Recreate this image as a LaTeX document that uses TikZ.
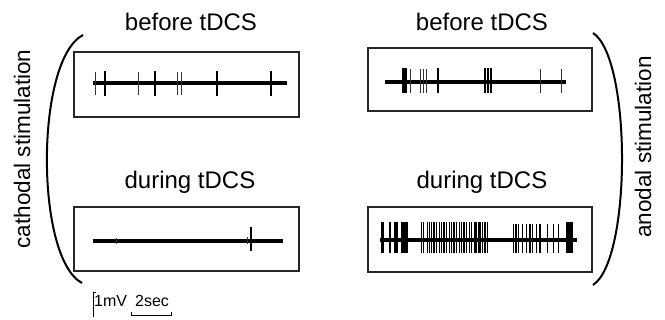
\documentclass[tikz,border=0pt]{standalone}
\usepackage{fontspec}
\setmainfont{Liberation Sans}
\begin{document}
\begin{tikzpicture}[x=1pt,y=-1pt,
  panel/.style={draw=black!85, line width=1.2pt, rectangle, inner sep=0pt},
  base/.style={line width=3.2pt},
  sp/.style={line width=1pt, black!80},
  spk/.style={line width=2pt},
  lab/.style={font=\fontsize{24}{26}\selectfont, inner sep=0pt},
  vlab/.style={font=\fontsize{22.5}{24}\selectfont, inner sep=0pt, rotate=90},
  small/.style={font=\fontsize{16}{18}\selectfont, inner sep=0pt},
  brk/.style={line width=2pt},
  scalebar/.style={line width=0.9pt}]
\useasboundingbox (0,0) rectangle (665,320);

% titles
\node[lab] (t1) at (191,22) {before tDCS};
\node[lab] (t2) at (482,22) {before tDCS};
\node[lab] (t3) at (190,182) {during tDCS};
\node[lab] (t4) at (482,182) {during tDCS};
\node[vlab] (cath) at (22,149) {cathodal stimulation};
\node[vlab] (anod) at (643,147) {anodal stimulation};

% panels
\node[panel, minimum width=225pt, minimum height=65pt] (p1) at (186.5,84.5) {};
\node[panel, minimum width=224pt, minimum height=63pt] (p2) at (480,79.5) {};
\node[panel, minimum width=225pt, minimum height=64pt] (p3) at (186.5,239) {};
\node[panel, minimum width=224pt, minimum height=65pt] (p4) at (480,239.5) {};

% brackets
\coordinate (lb1) at (83,35);
\coordinate (lb2) at (82,283);
\draw[brk] (lb1) .. controls (35,60) and (35,258) .. (lb2);
\coordinate (rb1) at (593,33);
\coordinate (rb2) at (593,285);
\draw[brk] (rb1) .. controls (631.7,58) and (631.7,260) .. (rb2);

% trace 1 (cathodal before)
\draw[base] (93,83) -- (287,83);
\foreach \x in {95,138,177,181} \draw[sp] (\x,72) -- (\x,95);
\foreach \x in {105,155,217,271} \draw[spk] (\x,71) -- (\x,96);

% trace 2 (anodal before)
\draw[base] (385,82) -- (566,82);
\foreach \x in {402.7,404.5,406,437.7,485,488.3,490.7} \draw[spk] (\x,68) -- (\x,93);
\foreach \x in {410,420,423.3,426.7,540,561.7} \draw[sp] (\x,69) -- (\x,93);

% trace 3 (cathodal during)
\draw[base] (93,241) -- (283,241);
\draw[sp] (116,238) -- (116,244);
\draw[sp] (247,237) -- (247,244);
\draw[spk] (251,227) -- (251,251);

% trace 4 (anodal during)
\draw[base] (380,240) -- (577,240);
\foreach \x in {381.7,383.3,390,395,396.7,401.7,404,405.7,406.7,566.7,568.3,570,571.7}
  \draw[spk] (\x,222) -- (\x,253);
\foreach \x in {421.7,423.3,427.3,429.3,431.7,434,436.7,439.3,441.7,444,446.7,449.3,451.7,454,456.7,459.3,461.7,464,466.7,469.3,471.7,475,476.7,478.3,480,482.7,485,487.3}
  \draw[line width=1.3pt] (\x,222) -- (\x,253);
\foreach \x in {513.3,516,518.3,522.7,526.7,530,532.7,536.7,540,547.3,553.3,558.3}
  \draw[line width=1.2pt] (\x,224) -- (\x,253);

% scale bar
\coordinate (sv0) at (96,292);
\coordinate (sv1) at (93,292);
\coordinate (sv2) at (93,317);
\draw[scalebar] (sv0) -- (sv1) -- (sv2);
\node[small, anchor=base west] (mv) at (94,307) {1mV};
\node[small, anchor=base west] (sec) at (135,307) {2sec};
\coordinate (sh0) at (131,312);
\coordinate (sh1) at (131,315);
\coordinate (sh2) at (171,315);
\coordinate (sh3) at (171,312);
\draw[scalebar] (sh0) -- (sh1) -- (sh2) -- (sh3);
\end{tikzpicture}
\end{document}
